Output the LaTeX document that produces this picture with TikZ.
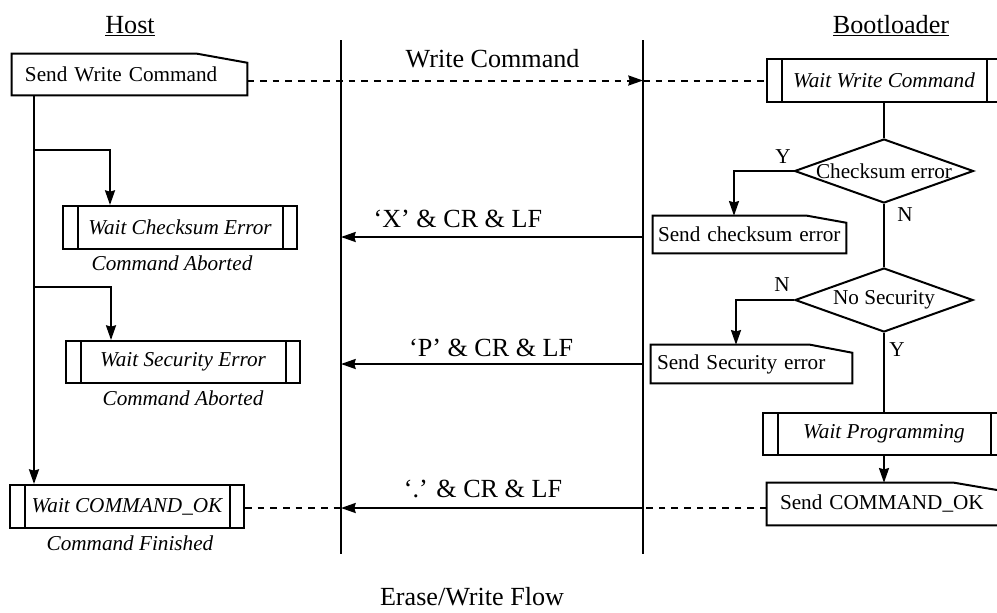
\documentclass[tikz,border=0pt]{standalone}
\usepackage{fontspec}
\setmainfont{Liberation Serif}
\usetikzlibrary{shapes.geometric,arrows.meta,calc}
\newdimen\pxu \pxu=0.75pt
\newcommand\sendshape[3]{\draw[ln] (#1.south west) -- (#1.north west) -- ($(#1.north east)+(-#2,0)$) -- ($(#1.north east)+(0,#3)$) -- (#1.south east) -- cycle;}
\tikzset{
 ln/.style={line width=1.5pt},
 arr/.style={ln, -{Stealth[length=11pt,width=7.5pt,inset=1pt]}},
 dsh/.style={dash pattern=on 5pt off 4.5pt},
 txt/.style={font=\fontsize{15.9}{19}\selectfont},
 big/.style={font=\fontsize{19.6}{23}\selectfont},
 itx/.style={font=\fontsize{15.9}{19}\selectfont\itshape},
 predef/.style={itx, draw, ln, rectangle, inner sep=0pt,
   path picture={\draw[line width=1.5pt]
     ([xshift=14.5\pxu]path picture bounding box.north west) -- ([xshift=14.5\pxu]path picture bounding box.south west)
     ([xshift=-14.5\pxu]path picture bounding box.north east) -- ([xshift=-14.5\pxu]path picture bounding box.south east);}},
 sendbox/.style={txt, rectangle, inner ysep=0pt, align=left},
 dec/.style={diamond, draw, ln, inner sep=0pt},
}
\begin{document}
\begin{tikzpicture}[x=0.75pt,y=-0.75pt]
\useasboundingbox (0,0) rectangle (997,612);
\node[big, anchor=base] (host) at (130,33) {\underline{Host}};
\node[big, anchor=base] (boot) at (891,33) {\underline{Bootloader}};

\coordinate (lhT) at (341,40); \coordinate (lhB) at (341,554);
\coordinate (lbT) at (643,40); \coordinate (lbB) at (643,554);
\draw[ln] (lhT) -- (lhB);
\draw[ln] (lbT) -- (lbB);

% host side
\node[sendbox, minimum height=41\pxu, text width=209\pxu, inner xsep=13\pxu] (sw) at (129.5,74.5) {Send Write Command};
\sendshape{sw}{50}{9}
\node[predef, minimum width=234\pxu, minimum height=43\pxu] (wce) at (180,227.5) {Wait Checksum Error};
\node[itx] (ca1) at (172,263) {Command Aborted};
\node[predef, minimum width=234\pxu, minimum height=42\pxu] (wse) at (183,362) {Wait Security Error};
\node[itx] (ca2) at (183,398) {Command Aborted};
\node[predef, minimum width=234\pxu, minimum height=43\pxu] (wok) at (127,506.5) {Wait COMMAND\_OK};
\node[itx] (cf) at (130,543) {Command Finished};

\coordinate (hx) at (34,0);
\coordinate (b1) at (34,150); \coordinate (b1x) at (110,0);
\coordinate (b2) at (34,287); \coordinate (b2x) at (111,0);
\draw[arr] (hx |- sw.south) -- (hx |- wok.north);
\draw[arr] (b1) -| (b1x |- wce.north);
\draw[arr] (b2) -| (b2x |- wse.north);

% bootloader side
\node[predef, minimum width=234\pxu, minimum height=43\pxu] (wwc) at (884,80.5) {Wait Write Command};
\node[dec, minimum width=179\pxu, minimum height=64\pxu, label={[txt]center:Checksum error}] (dcs) at (884,171) {};
\node[sendbox, minimum height=37\pxu, text width=183\pxu, inner xsep=5\pxu] (sce) at (749.5,234.5) {Send checksum error};
\sendshape{sce}{39}{7}
\node[dec, minimum width=178\pxu, minimum height=64\pxu, label={[txt]center:No Security}] (dns) at (884,300) {};
\node[sendbox, minimum height=38\pxu, text width=189\pxu, inner xsep=6\pxu] (sse) at (751.5,364) {Send Security error};
\sendshape{sse}{42}{8}
\node[predef, minimum width=242\pxu, minimum height=42\pxu] (wpg) at (884,434) {Wait Programming};
\node[sendbox, minimum height=42\pxu, text width=208\pxu, inner xsep=13\pxu] (sok) at (884,504) {Send COMMAND\_OK};
\sendshape{sok}{47}{8}

\draw[ln] (wwc.south) -- (dcs.north);
\draw[ln] (dcs.south) -- (dns.north);
\draw[ln] (dns.south) -- (wpg.north);
\draw[arr] (wpg.south) -- (sok.north);
\coordinate (cy) at (734,0); \coordinate (cn) at (736,0);
\draw[arr] (dcs.west) -| (cy |- sce.north);
\draw[arr] (dns.west) -| (cn |- sse.north);
\node[txt] (ly1) at (783,157) {Y};
\node[txt] (ln1) at (905,215) {N};
\node[txt] (ln2) at (782,285) {N};
\node[txt] (ly2) at (897,350) {Y};

% messages
\draw[arr, dsh] (sw.east |- wwc.west) -- (lbT |- wwc.west) node[big, pos=0.62, anchor=base, yshift=9.4pt] {Write Command};
\draw[ln, dsh] (lbT |- wwc.west) -- (wwc.west);
\coordinate (m1) at (0,237); \coordinate (m2) at (0,364); \coordinate (m3) at (0,508);
\draw[arr] (lbT |- m1) -- (lhT |- m1) node[big, pos=0.613, anchor=base, yshift=7.5pt] {‘X’ \& CR \& LF};
\draw[arr] (lbT |- m2) -- (lhT |- m2) node[big, pos=0.503, anchor=base, yshift=5.5pt] {‘P’ \& CR \& LF};
\draw[arr] (lbT |- m3) -- (lhT |- m3) node[big, pos=0.53, anchor=base, yshift=8pt] {‘.’ \& CR \& LF};
\draw[ln, dsh] (wok.east |- m3) -- (lhT |- m3);
\draw[ln, dsh] (sok.west |- m3) -- (lbT |- m3);

\node[big, anchor=base] (cap) at (472,605) {Erase/Write Flow};
\end{tikzpicture}
\end{document}
